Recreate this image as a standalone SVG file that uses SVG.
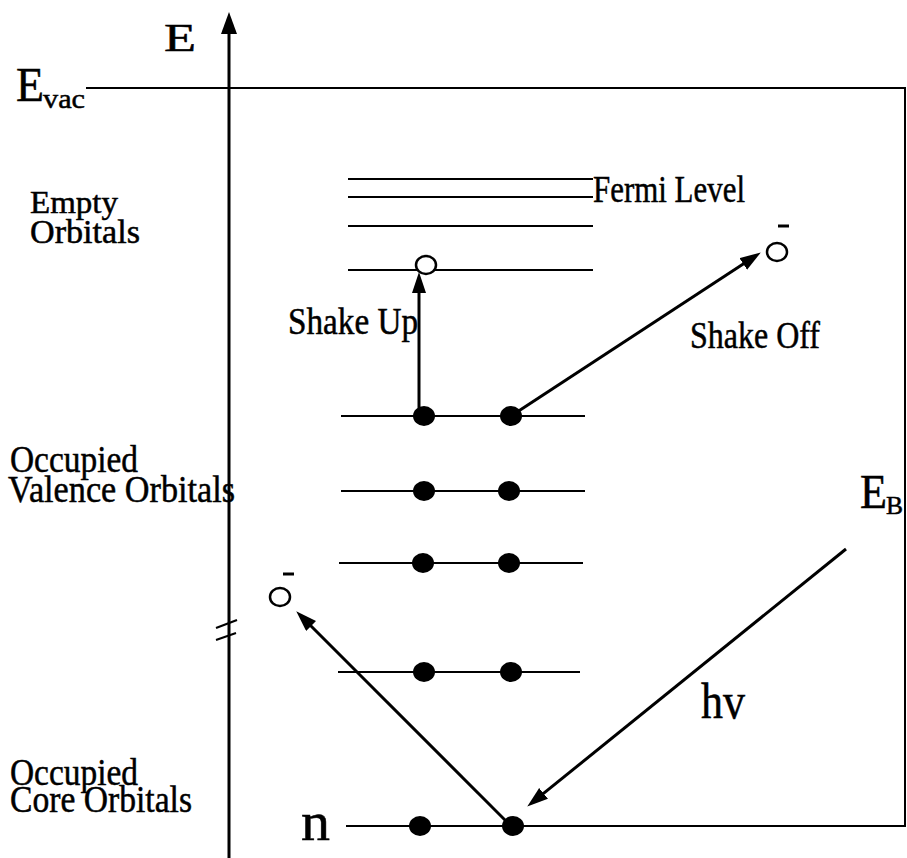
<svg xmlns="http://www.w3.org/2000/svg" width="907" height="858" viewBox="0 0 907 858">
<style>
text{font-family:"Liberation Serif","Times New Roman",serif;fill:#000;stroke:#000;stroke-width:0.5}
.lvl{stroke:#000;stroke-width:2;fill:none}
.ax{stroke:#000;stroke-width:3;fill:none}
.arr{stroke:#000;stroke-width:3;fill:none;marker-end:url(#ah)}
.dot{fill:#000}
.hole{fill:#fff;stroke:#000;stroke-width:2.5}
</style>
<defs>
<marker id="ah" markerUnits="userSpaceOnUse" markerWidth="22" markerHeight="16" refX="10" refY="7" orient="auto">
<path d="M0,0 L21,7 L0,14 z" fill="#000"/>
</marker>
</defs>
<rect width="907" height="858" fill="#fff"/>
<g id="axes">
<line class="ax" x1="229" y1="858" x2="229" y2="30"/>
<path d="M229,12 L221,34 L237,34 z" fill="#000"/>
<line class="lvl" x1="86" y1="88" x2="906" y2="88"/>
<line class="lvl" x1="905" y1="88" x2="905" y2="826"/>
<line class="lvl" x1="216" y1="628" x2="237" y2="620"/>
<line class="lvl" x1="216" y1="640" x2="236" y2="633"/>
</g>
<g id="labels">
<text x="164" y="51" font-size="40" textLength="32" lengthAdjust="spacingAndGlyphs">E</text>
<text x="16" y="101" font-size="48" textLength="28" lengthAdjust="spacingAndGlyphs">E</text>
<text x="43" y="108" font-size="28" textLength="42" lengthAdjust="spacingAndGlyphs">vac</text>
<text x="30" y="213" font-size="32" textLength="88" lengthAdjust="spacingAndGlyphs">Empty</text>
<text x="30" y="243" font-size="33" textLength="110" lengthAdjust="spacingAndGlyphs">Orbitals</text>
<text x="10" y="472" font-size="38" textLength="128" lengthAdjust="spacingAndGlyphs">Occupied</text>
<text x="8" y="502" font-size="38" textLength="227" lengthAdjust="spacingAndGlyphs">Valence Orbitals</text>
<text x="10" y="785" font-size="38" textLength="128" lengthAdjust="spacingAndGlyphs">Occupied</text>
<text x="10" y="812" font-size="38" textLength="182" lengthAdjust="spacingAndGlyphs">Core Orbitals</text>
<text x="593" y="202" font-size="38" textLength="152" lengthAdjust="spacingAndGlyphs">Fermi Level</text>
<text x="288" y="334" font-size="37" textLength="130" lengthAdjust="spacingAndGlyphs">Shake Up</text>
<text x="690" y="348" font-size="37" textLength="130" lengthAdjust="spacingAndGlyphs">Shake Off</text>
<text x="860" y="508" font-size="48" textLength="27" lengthAdjust="spacingAndGlyphs">E</text>
<text x="886" y="514" font-size="26" textLength="17" lengthAdjust="spacingAndGlyphs">B</text>
<text x="701" y="718" font-size="50" textLength="44" lengthAdjust="spacingAndGlyphs">hv</text>
<text x="301" y="840" font-size="55" textLength="29" lengthAdjust="spacingAndGlyphs">n</text>
</g>
<g id="levels">
<line class="lvl" x1="348" y1="179" x2="593" y2="179"/>
<line class="lvl" x1="348" y1="197" x2="593" y2="197"/>
<line class="lvl" x1="348" y1="226" x2="593" y2="226"/>
<line class="lvl" x1="348" y1="270" x2="593" y2="270"/>
<line class="lvl" x1="341" y1="416" x2="585" y2="416"/>
<line class="lvl" x1="341" y1="491" x2="585" y2="491"/>
<line class="lvl" x1="339" y1="563" x2="583" y2="563"/>
<line class="lvl" x1="338" y1="672" x2="580" y2="672"/>
<line class="lvl" x1="346" y1="826" x2="906" y2="826"/>
</g>
<g id="connectors">
<line class="arr" x1="419" y1="416" x2="419" y2="283"/>
<line class="arr" x1="511" y1="416" x2="751.6" y2="258.5"/>
<line class="arr" x1="511" y1="826" x2="304" y2="619"/>
<line class="arr" x1="846" y1="549" x2="535.8" y2="799.7"/>
</g>
<g id="electrons">
<ellipse class="dot" cx="424" cy="416" rx="11" ry="10"/>
<ellipse class="dot" cx="511" cy="416" rx="11" ry="10"/>
<ellipse class="dot" cx="424" cy="491" rx="11" ry="10"/>
<ellipse class="dot" cx="509" cy="491" rx="11" ry="10"/>
<ellipse class="dot" cx="423" cy="563" rx="11" ry="10"/>
<ellipse class="dot" cx="509" cy="563" rx="11" ry="10"/>
<ellipse class="dot" cx="424" cy="672" rx="11" ry="10"/>
<ellipse class="dot" cx="511" cy="672" rx="11" ry="10"/>
<ellipse class="dot" cx="420" cy="826" rx="11" ry="10"/>
<ellipse class="dot" cx="513" cy="826" rx="11" ry="10"/>
<ellipse class="hole" cx="426" cy="265" rx="10" ry="9"/>
<ellipse class="hole" cx="777" cy="252" rx="10" ry="9"/>
<line x1="778" y1="226" x2="789" y2="226" stroke="#000" stroke-width="3"/>
<ellipse class="hole" cx="280" cy="597" rx="10" ry="9"/>
<line x1="283" y1="574" x2="294" y2="574" stroke="#000" stroke-width="3"/>
</g>
</svg>
